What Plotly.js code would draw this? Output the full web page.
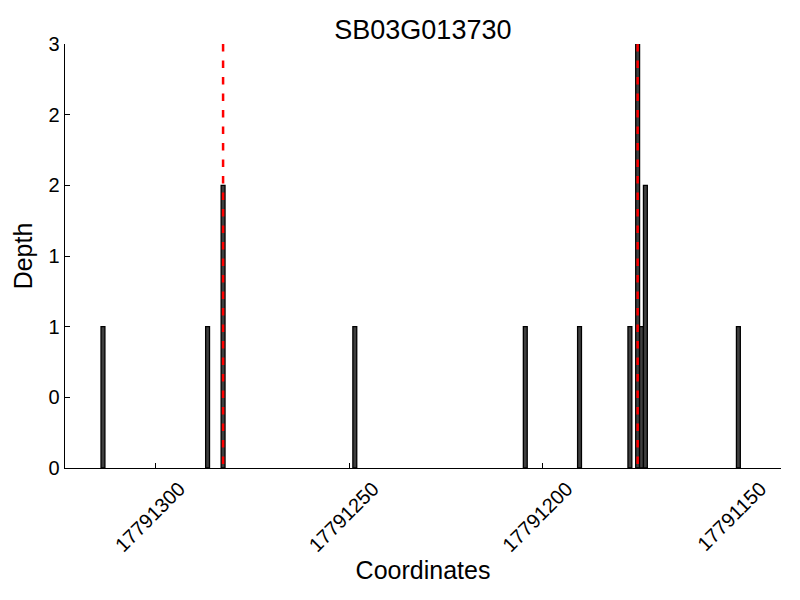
<!DOCTYPE html>
<html>
<head>
<meta charset="utf-8">
<script src="https://cdn.plot.ly/plotly-3.0.1.min.js"></script>
<style>html,body{margin:0;padding:0;background:#fff;}#chart{width:800px;height:600px;}</style>
</head>
<body>
<div id="chart"></div>
<script>
// Data
const positions = [17791313, 17791286, 17791282, 17791248, 17791204, 17791190, 17791177, 17791175, 17791174, 17791173, 17791149];
const depths    = [1, 1, 2, 1, 1, 1, 1, 3, 1, 2, 1];
const markerLines = [17791282.5, 17791175.5];
const xTickVals = [17791300, 17791250, 17791200, 17791150];
const xTickText = ['17791300', '17791250', '17791200', '17791150'];
const yTickVals = [0, 0.5, 1, 1.5, 2, 2.5, 3];
const yTickText = ['0', '0', '1', '1', '2', '2', '3'];
const xRange = [17791323.3, 17791138.5];
const yRange = [0, 3];

const FONT = 'Liberation Sans, Arial, Helvetica, sans-serif';

const traces = [{
  type: 'bar',
  x: positions,
  y: depths,
  width: 1,
  offset: 0,
  marker: {color: '#3f3f3f', line: {color: '#000000', width: 1.3}},
  hoverinfo: 'x+y',
  showlegend: false
}];

markerLines.forEach(v => {
  traces.push({
    type: 'scatter',
    mode: 'lines',
    x: [v, v],
    y: [yRange[1], yRange[0]],
    line: {color: '#ff0000', width: 2.5, dash: '7.5px,9px'},
    cliponaxis: false,
    showlegend: false,
    hoverinfo: 'skip'
  });
});

const layout = {
  width: 800,
  height: 600,
  margin: {l: 65, r: 19, t: 44, b: 132},
  paper_bgcolor: '#ffffff',
  plot_bgcolor: '#ffffff',
  bargap: 0,
  showlegend: false,
  font: {family: FONT, color: '#000000'},
  title: {
    text: 'SB03G013730',
    font: {family: FONT, size: 27, color: '#000000'},
    x: 0.5286, xanchor: 'center',
    y: 0.95, yanchor: 'middle'
  },
  xaxis: {
    range: xRange,
    autorange: false,
    tickmode: 'array',
    tickvals: xTickVals,
    ticktext: xTickText,
    tickangle: -45,
    ticklabelshift: -24,
    ticks: 'inside',
    ticklen: 5,
    tickwidth: 1,
    tickcolor: '#000000',
    tickfont: {family: FONT, size: 20, color: '#000000'},
    showline: true,
    linecolor: '#000000',
    linewidth: 1.3,
    showgrid: false,
    zeroline: false,
    title: {text: 'Coordinates', font: {family: FONT, size: 25, color: '#000000'}, standoff: 1}
  },
  yaxis: {
    range: yRange,
    autorange: false,
    tickmode: 'array',
    tickvals: yTickVals,
    ticktext: yTickText,
    ticks: 'inside',
    ticklen: 5,
    tickwidth: 1,
    tickcolor: '#000000',
    tickfont: {family: FONT, size: 20, color: '#000000'},
    showline: true,
    linecolor: '#000000',
    linewidth: 1.3,
    showgrid: false,
    zeroline: false,
    title: {text: 'Depth', font: {family: FONT, size: 25, color: '#000000'}, standoff: 8}
  }
};

Plotly.newPlot('chart', traces, layout, {displayModeBar: false, staticPlot: true});
</script>
</body>
</html>
